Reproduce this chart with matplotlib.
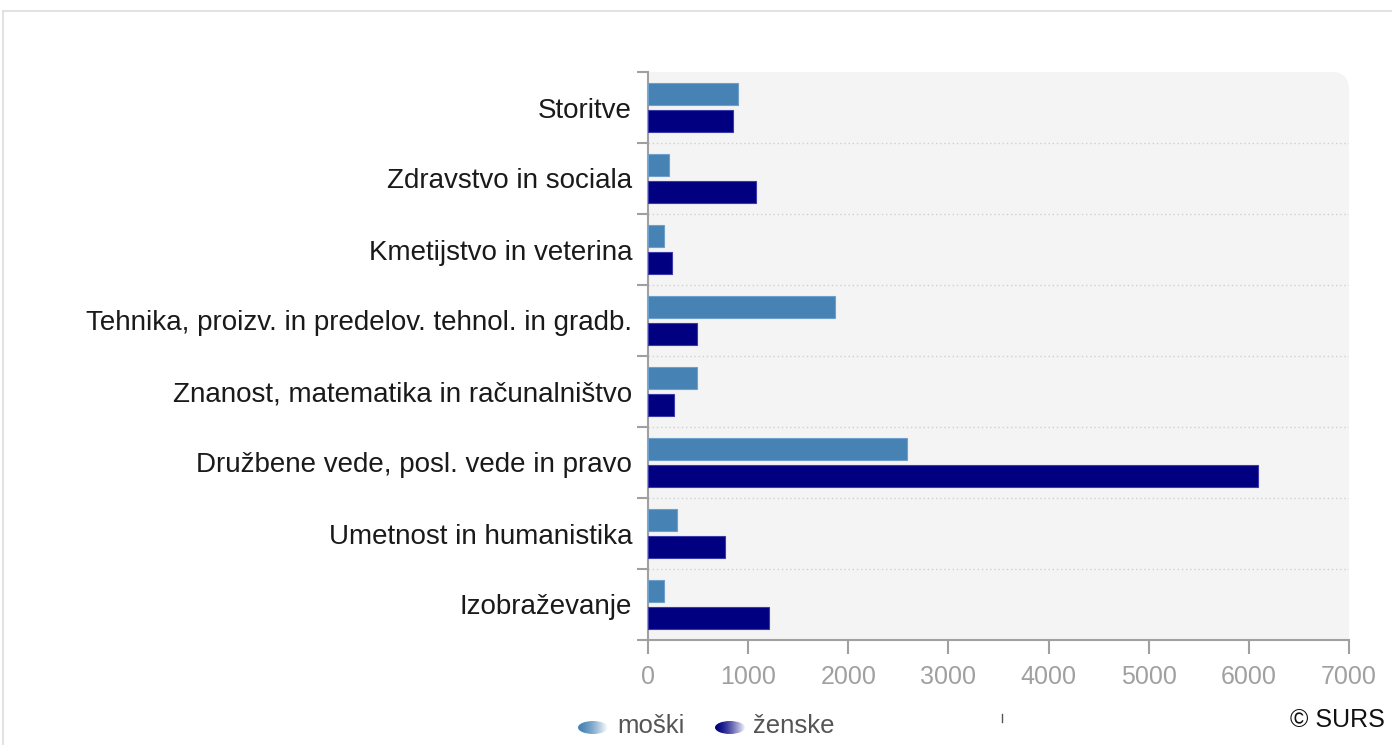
import numpy as np
import matplotlib.pyplot as plt
from matplotlib.patches import FancyBboxPatch, Rectangle, Ellipse
from matplotlib.lines import Line2D

plt.rcParams['font.family'] = ['Liberation Sans', 'DejaVu Sans']

categories = ['Storitve', 'Zdravstvo in sociala', 'Kmetijstvo in veterina',
              'Tehnika, proizv. in predelov. tehnol. in gradb.',
              'Znanost, matematika in računalništvo',
              'Družbene vede, posl. vede in pravo',
              'Umetnost in humanistika', 'Izobraževanje']
moski = [900, 210, 160, 1870, 490, 2590, 290, 160]
zenske = [850, 1080, 240, 490, 260, 6090, 770, 1210]
xticks = [0, 1000, 2000, 3000, 4000, 5000, 6000, 7000]

c_m = '#4682b4'
c_z = '#000080'
grey = '#a0a0a0'

fig = plt.figure(figsize=(13.92, 7.45), dpi=100)
W, H = 1392, 745
ax = fig.add_axes([648 / W, 1 - 640 / H, 701 / W, 568 / H])
ax.set_facecolor('none')

# plot background, only top-right corner rounded
bg = '#f4f4f4'
ax.add_patch(FancyBboxPatch((0, 0), 1, 1, boxstyle='round,pad=0,rounding_size=0.025',
                            transform=ax.transAxes, fc=bg, ec='none', zorder=0,
                            mutation_aspect=701 / 568))
ax.add_patch(Rectangle((0, 0), 1, 0.95, transform=ax.transAxes, fc=bg, ec='none', zorder=0))
ax.add_patch(Rectangle((0, 0), 0.95, 1, transform=ax.transAxes, fc=bg, ec='none', zorder=0))

y = np.arange(len(categories))
h = 0.3
ax.barh(y - 0.19, moski, height=h, color=c_m, edgecolor='#6fa0cc', linewidth=0.8, zorder=3)
ax.barh(y + 0.19, zenske, height=h, color=c_z, edgecolor='#3a3aa8', linewidth=0.8, zorder=3)

ax.set_xlim(0, 7000)
ax.set_ylim(len(categories) - 0.5, -0.5)

ax.set_yticks(y)
ax.set_yticklabels(categories, fontsize=20, color='#1a1a1a')
ax.tick_params(axis='y', which='major', length=0, pad=11.5)
bounds = np.arange(len(categories) + 1) - 0.5
ax.set_yticks(bounds, minor=True)
ax.tick_params(axis='y', which='minor', length=8, width=1.5, color=grey)
for b in bounds[1:-1]:
    ax.axhline(b, color='#d0d0d0', lw=1, ls=(0, (1, 2)), zorder=1)

ax.set_xticks(xticks)
ax.set_xticklabels([str(v) for v in xticks], fontsize=18, color='#a0a0a0')
ax.tick_params(axis='x', length=10, width=1.5, color=grey, pad=8)

for s in ['top', 'right']:
    ax.spines[s].set_visible(False)
for s in ['left', 'bottom']:
    ax.spines[s].set_color(grey)
    ax.spines[s].set_linewidth(1.5)

# outer frame
fig.add_artist(Line2D([3 / W, 1], [1 - 11 / H, 1 - 11 / H], color='#dddddd', lw=1.2))
fig.add_artist(Line2D([3 / W, 3 / W], [0, 1 - 11 / H], color='#dddddd', lw=1.2))


# legend with gradient ellipses
def legend_key(x0, color):
    kax = fig.add_axes([x0 / W, 1 - 734 / H, 30 / W, 13 / H])
    kax.set_axis_off()
    rgb = np.array(plt.matplotlib.colors.to_rgb(color))
    t = np.linspace(0, 1, 64)[None, :, None] ** 1.5
    img = rgb * (1 - t) + np.ones(3) * t
    img = np.repeat(img, 16, axis=0)
    im = kax.imshow(img, extent=(0, 1, 0, 1), aspect='auto')
    el = Ellipse((0.5, 0.5), 1, 1, transform=kax.transData, fc='none', ec='none')
    kax.add_patch(el)
    im.set_clip_path(el)
    kax.set_xlim(0, 1)
    kax.set_ylim(0, 1)


legend_key(578, c_m)
legend_key(715, c_z)
fig.text(617 / W, 1 - 726 / H, 'moški', fontsize=18.5, color='#555555', va='center')
fig.text(753 / W, 1 - 726 / H, 'ženske', fontsize=18.5, color='#555555', va='center')
fig.add_artist(Line2D([1002 / W, 1002 / W], [1 - 722 / H, 1 - 714 / H], color='#555555', lw=1))
fig.text(1385 / W, 1 - 720 / H, '© SURS', fontsize=18, color='#111111', ha='right', va='center')

fig.savefig('out.png', dpi=100)
